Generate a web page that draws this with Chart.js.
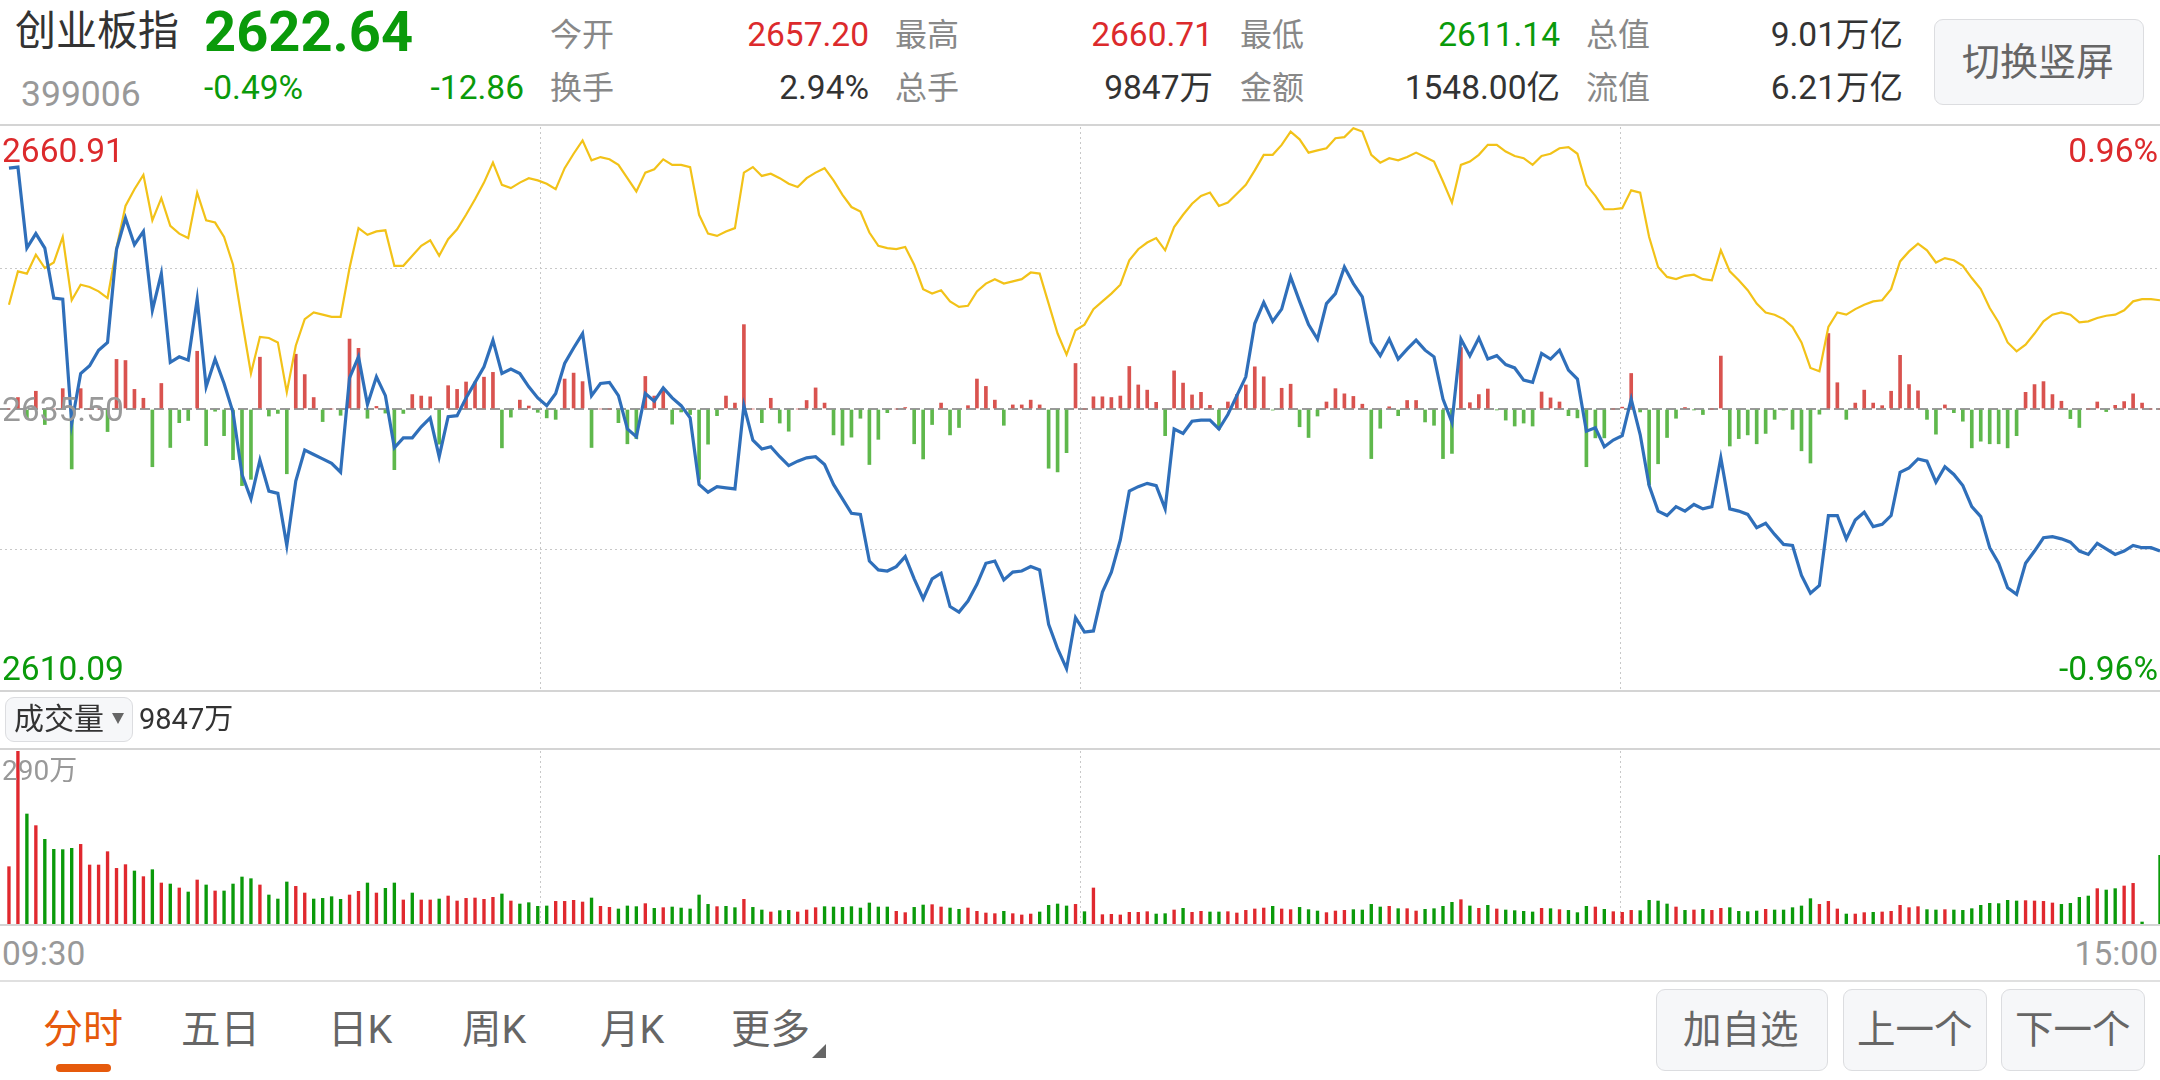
<!DOCTYPE html>
<html>
<head>
<meta charset="utf-8">
<title>创业板指</title>
<script src="https://cdn.jsdelivr.net/npm/chart.js@4/dist/chart.umd.min.js"></script>
<style>
  html, body { margin: 0; padding: 0; background: #fff; }
  #page { position: relative; width: 2160px; height: 1080px; overflow: hidden; background: #fff; font-family: Roboto, "Noto Sans CJK SC", sans-serif; }
  #page canvas { position: absolute; left: 0; }
  .txt { position: absolute; white-space: nowrap; line-height: 1; transform: translateY(-50%); }
  .rule { position: absolute; left: 0; width: 2160px; height: 2px; background: #d4d4d4; }
  .btn { position: absolute; box-sizing: border-box; background: #f6f7f9; border: 1.5px solid #dcdde0; border-radius: 9px; }
</style>
</head>
<body>
<div id="page">
  <canvas id="mainChart" width="2160" height="564" style="top:127px"></canvas>
  <canvas id="volumeChart" width="2160" height="174" style="top:751px"></canvas>
  <div class="rule" style="top:124px"></div>
  <div class="rule" style="top:690px"></div>
  <div class="rule" style="top:748px"></div>
  <div class="rule" style="top:924px"></div>
  <div class="rule" style="top:980px;background:#e0e0e0"></div>
  <div class="btn" style="left:1934px;top:19px;width:210px;height:86px"></div>
  <div class="btn" style="left:5px;top:697px;width:128px;height:45px"></div>
  <div class="btn" style="left:1656px;top:989px;width:172px;height:82px"></div>
  <div class="btn" style="left:1843px;top:989px;width:144px;height:82px"></div>
  <div class="btn" style="left:2001px;top:989px;width:144px;height:82px"></div>
  <div style="position:absolute;left:56px;top:1064px;width:55px;height:8px;border-radius:4px;background:#e65a0c"></div>
  <div style="position:absolute;left:112px;top:713px;border-left:6px solid transparent;border-right:6px solid transparent;border-top:11px solid #666"></div>
  <div style="position:absolute;left:812px;top:1044px;border-left:14px solid transparent;border-bottom:14px solid #666"></div>
</div>
<script>
// 价格刻度
const priceTicks = ['2660.91', '2635.50', '2610.09'];
const percentTicks = ['0.96%', '-0.96%'];
const volumeTick = '290万';
const timeTicks = ['09:30', '15:00'];
const priceMin = 2610.09;
const priceMid = 2635.50;
const priceMax = 2660.91;
const priceGrid = [2648.2, 2622.8];
const volumeMax = 290;
const flowMax = 762;
const minuteCount = 241;
const minuteGrid = [60.25, 120.5, 180.75];

// 蓝线:指数
const indexValues = [
  2657.2, 2657.3, 2650.0, 2651.3, 2650.0, 2645.5, 2645.4, 2634.2, 2638.7, 2639.4,
  2640.8, 2641.5, 2649.9, 2652.7, 2650.3, 2651.5, 2644.4, 2647.7, 2639.7, 2640.2,
  2639.9, 2645.4, 2637.5, 2640.0, 2637.8, 2635.2, 2629.6, 2627.4, 2630.9, 2628.1,
  2627.9, 2623.2, 2629.0, 2631.8, 2631.4, 2631.0, 2630.6, 2629.8, 2638.3, 2640.2,
  2635.9, 2638.4, 2636.7, 2632.0, 2632.9, 2632.9, 2633.9, 2634.7, 2631.2, 2634.8,
  2634.9, 2636.5, 2637.9, 2639.3, 2641.7, 2638.7, 2639.1, 2638.7, 2637.5, 2636.5,
  2635.8, 2636.9, 2639.6, 2641.0, 2642.3, 2636.7, 2637.8, 2637.9, 2636.7, 2633.7,
  2633.0, 2636.9, 2636.2, 2637.4, 2636.5, 2635.8, 2634.7, 2628.7, 2628.0, 2628.5,
  2628.4, 2628.3, 2635.8, 2632.7, 2631.9, 2632.1, 2631.2, 2630.4, 2630.8, 2631.1,
  2631.2, 2630.5, 2628.7, 2627.4, 2626.1, 2626.0, 2621.8, 2621.0, 2620.9, 2621.3,
  2622.2, 2620.2, 2618.4, 2620.2, 2620.7, 2617.7, 2617.2, 2618.2, 2619.7, 2621.6,
  2621.8, 2620.1, 2620.8, 2620.9, 2621.3, 2621.0, 2616.1, 2613.9, 2612.1, 2616.7,
  2615.4, 2615.5, 2619.0, 2620.8, 2623.7, 2628.1, 2628.5, 2628.8, 2628.6, 2626.5,
  2633.7, 2633.3, 2634.4, 2634.5, 2634.5, 2633.7, 2635.0, 2636.7, 2638.4, 2643.2,
  2645.1, 2643.4, 2644.5, 2647.4, 2645.2, 2643.1, 2641.8, 2645.0, 2645.9, 2648.3,
  2646.8, 2645.6, 2641.5, 2640.3, 2641.8, 2640.0, 2640.9, 2641.7, 2640.8, 2640.2,
  2636.4, 2634.3, 2641.8, 2640.3, 2641.9, 2640.0, 2640.3, 2639.5, 2639.2, 2638.1,
  2637.9, 2640.5, 2640.0, 2640.8, 2639.0, 2638.2, 2633.5, 2633.8, 2632.1, 2632.7,
  2633.1, 2636.4, 2633.2, 2628.6, 2626.3, 2625.9, 2626.7, 2626.3, 2626.9, 2626.5,
  2626.7, 2631.1, 2626.5, 2626.3, 2626.0, 2624.8, 2625.2, 2624.2, 2623.3, 2623.2,
  2620.5, 2618.9, 2619.6, 2625.9, 2625.9, 2623.8, 2625.5, 2626.2, 2624.9, 2625.1,
  2625.9, 2629.8, 2630.2, 2631.0, 2630.8, 2628.9, 2630.3, 2629.6, 2628.6, 2626.7,
  2625.8, 2623.0, 2621.6, 2619.4, 2618.8, 2621.6, 2622.7, 2623.9, 2624.0, 2623.8,
  2623.5, 2622.7, 2622.4, 2623.4, 2622.9, 2622.4, 2622.7, 2623.2, 2623.0, 2623.0,
  2622.7
];

// 黄线:领先指标
const leadValues = [
  2644.9, 2647.9, 2647.7, 2649.4, 2648.2, 2648.7, 2651.0, 2645.3, 2646.7, 2646.5,
  2646.1, 2645.5, 2650.0, 2653.8, 2655.3, 2656.6, 2652.5, 2654.5, 2652.0, 2651.3,
  2650.9, 2655.0, 2652.5, 2652.3, 2651.0, 2648.5, 2643.5, 2638.7, 2642.0, 2641.9,
  2641.5, 2637.0, 2641.2, 2643.6, 2644.2, 2644.0, 2643.8, 2643.8, 2648.2, 2651.8,
  2651.2, 2651.5, 2651.6, 2648.4, 2648.4, 2649.3, 2650.2, 2650.7, 2649.3, 2650.8,
  2651.7, 2653.0, 2654.4, 2655.9, 2657.7, 2655.7, 2655.4, 2655.9, 2656.3, 2656.1,
  2655.8, 2655.3, 2657.2, 2658.5, 2659.7, 2657.9, 2658.2, 2658.0, 2657.5, 2656.3,
  2655.1, 2656.8, 2657.1, 2658.0, 2657.5, 2657.5, 2657.3, 2653.0, 2651.3, 2651.1,
  2651.5, 2651.8, 2656.8, 2657.3, 2656.5, 2656.7, 2656.3, 2655.8, 2655.5, 2656.3,
  2656.8, 2657.2, 2656.1, 2654.8, 2653.7, 2653.3, 2651.4, 2650.2, 2650.0, 2649.9,
  2650.1, 2648.5, 2646.3, 2645.9, 2646.2, 2645.2, 2644.7, 2644.8, 2646.1, 2646.8,
  2647.2, 2646.8, 2647.0, 2647.2, 2647.8, 2647.7, 2645.0, 2642.3, 2640.4, 2642.6,
  2643.1, 2644.5, 2645.2, 2645.9, 2646.7, 2648.9, 2649.9, 2650.5, 2650.9, 2649.8,
  2651.9, 2653.0, 2654.0, 2654.7, 2655.0, 2653.8, 2654.1, 2654.9, 2655.7, 2657.0,
  2658.4, 2658.4, 2659.3, 2660.5, 2659.8, 2658.6, 2658.8, 2659.0, 2659.9, 2660.0,
  2660.8, 2660.5, 2658.4, 2657.7, 2658.1, 2657.9, 2658.2, 2658.6, 2658.2, 2657.8,
  2656.0, 2654.1, 2657.5, 2657.8, 2658.4, 2659.3, 2659.3, 2658.7, 2658.3, 2658.1,
  2657.5, 2658.3, 2658.5, 2659.0, 2659.1, 2658.5, 2655.7, 2654.7, 2653.5, 2653.5,
  2653.6, 2655.2, 2655.0, 2651.0, 2648.3, 2647.4, 2647.2, 2647.5, 2647.6, 2647.2,
  2647.1, 2649.8, 2647.9, 2647.1, 2646.2, 2645.0, 2644.2, 2644.0, 2643.6, 2642.9,
  2641.5, 2639.2, 2638.9, 2642.9, 2644.2, 2644.0, 2644.5, 2644.9, 2645.2, 2645.3,
  2646.3, 2648.8, 2649.7, 2650.4, 2649.8, 2648.7, 2649.1, 2648.9, 2648.4, 2647.3,
  2646.3, 2644.6, 2643.3, 2641.5, 2640.7, 2641.3, 2642.3, 2643.4, 2644.0, 2644.2,
  2644.0, 2643.3, 2643.4, 2643.7, 2643.9, 2644.0, 2644.4, 2645.2, 2645.4, 2645.4,
  2645.3
];

// 红绿柱
const flowValues = [
  0, 31, -25, 48, -42, 0, 55, -162, 55, 0,
  0, -61, 134, 131, 53, 29, -156, 69, -104, -37,
  -31, 156, -99, -6, -72, -137, -207, -190, 140, -19,
  -12, -175, 148, 93, 31, -34, 0, -17, 189, 164,
  -25, 7, -11, -164, -12, 39, 35, 33, -95, 63,
  53, 73, 73, 86, 99, -105, -22, 24, 8, -9,
  -24, -28, 81, 97, 74, -104, 0, 0, -37, -94,
  -80, 88, 35, 50, -41, -8, -15, -190, -95, -18,
  35, 16, 228, 0, -37, 29, -38, -60, 0, 23,
  57, 16, -70, -98, -76, -25, -150, -82, -10, 0,
  4, -94, -135, -42, 16, -70, -50, 9, 81, 61,
  24, -44, 11, 11, 24, 11, -160, -170, -118, 123,
  0, 33, 33, 31, 35, 115, 65, 51, 18, -72,
  103, 70, 38, 45, 10, -55, 19, 39, 65, 114,
  87, -3, 56, 67, -48, -77, -19, 19, 55, 41,
  34, 13, -134, -52, 6, -18, 23, 23, -35, -44,
  -134, -120, 166, 17, 39, 54, -2, -30, -46, -38,
  -46, 46, 30, 19, -18, -24, -156, -78, -78, 0,
  5, 96, -8, -205, -148, -77, -25, 4, -2, -15,
  0, 143, -100, -80, -70, -94, -66, -28, -3, -55,
  -113, -146, -14, 204, 71, -28, 16, 51, 16, 9,
  48, 145, 66, 49, -28, -68, 11, -10, -33, -105,
  -87, -94, -94, -105, -72, 45, 66, 74, 39, 21,
  -26, -50, 0, 19, -7, 10, 20, 41, 16, 0,
  0
];

// 成交量(万手)
const volumeValues = [
  97.2, 290, 185, 165.6, 142.8, 126.1, 125.6, 127.8, 134.4, 100,
  100, 122.2, 94.4, 100.6, 90, 80.6, 92.2, 70, 68.3, 61.7,
  55, 75, 66.7, 56.7, 56.7, 68.3, 80, 77.2, 66.7, 50,
  43.3, 71.7, 64.4, 53.3, 43.3, 44.4, 47.2, 42.8, 50, 56.1,
  70, 53.3, 61.1, 70, 41.7, 53.3, 41.7, 41.7, 43.3, 48.3,
  40, 44.4, 45, 42.8, 46.1, 51.7, 40, 35, 37.2, 31.1,
  31.7, 39.4, 39.4, 41.1, 38.3, 45, 31.1, 29.4, 26.7, 31.7,
  30.6, 35.6, 27.8, 28.9, 30, 28.3, 26.7, 50, 34.4, 30.6,
  31.1, 28.9, 42.8, 29.4, 25, 21.7, 23.9, 24.4, 21.7, 25,
  28.9, 30.6, 30, 29.4, 30.6, 28.3, 36.7, 30, 30, 22.8,
  20.6, 29.4, 33.3, 33.9, 30, 28.3, 26.1, 28.3, 22.8, 20,
  18.9, 22.8, 18.9, 16.7, 18.3, 21.7, 32.8, 35, 31.7, 34.4,
  22.2, 61.7, 17.2, 17.8, 16.7, 21.1, 21.1, 22.2, 18.3, 18.9,
  25, 27.8, 21.1, 22.8, 21.7, 21.7, 22.2, 20, 24.4, 26.7,
  28.3, 31.1, 26.7, 25.6, 29.4, 25.6, 23.3, 20.6, 23.3, 24.4,
  25.6, 25, 34.4, 30, 31.1, 27.2, 27.2, 23.3, 26.1, 27.2,
  31.1, 37.8, 42.2, 31.7, 27.8, 32.8, 26.7, 25, 23.9, 22.8,
  21.7, 27.8, 27.2, 25.6, 24.4, 20.6, 31.1, 30, 26.1, 22.2,
  21.1, 24.4, 23.9, 41.1, 40, 35, 30, 24.4, 25, 26.1,
  24.4, 27.8, 28.9, 22.8, 22.2, 23.3, 26.1, 25, 25, 28.9,
  31.7, 43.9, 34.4, 39.4, 26.7, 18.3, 18.3, 20.6, 21.1, 21.7,
  22.8, 32.8, 28.9, 30.6, 25.6, 25, 25.6, 25, 24.4, 27.2,
  32.8, 36.1, 35.6, 41.1, 40, 40.6, 40, 39.4, 36.7, 34.4,
  36.1, 46.1, 48.3, 60.6, 58.3, 60.6, 65, 69.4, 5, 0,
  116.1
];

// 涨跌:R 涨 G 跌
const volumeMoves = (
  'RRGRGGGGRR' + 'RRRRGRGRGR' + 'GRGRGGGGRG' + 'GGRRGGGGRR' +
  'GRGGRGRRGR' + 'RRRRRGRGGG' + 'GRRRRGRRGG' + 'GRGRGGGGGR' +
  'GGRGGRGGRR' + 'RGGGGGGGGR' + 'RGGRRGGRRR' + 'RGRRRGGGGR' +
  'GRRRRRRRGG' + 'RGRRGGRRRR' + 'RGRRGGGRRR' + 'GGGGRGRRGG' +
  'GGRGRGRGGG' + 'GRGRGGGRGR' + 'RRGGGGRGRG' + 'RRGGGGRGGG' +
  'GGRRRGRRGR' + 'RRRRGGRGGG' + 'GGGGGRRRRG' + 'GGGRGGRRGG' + 'G'
).split('');

const RED = '#dc2a2c';
const GREEN = '#0a9a0a';
const VOL_RED = '#e0282e';
const FLOW_RED = '#d9534f';
const FLOW_GREEN = '#5fb84c';
const GRID = '#c8c8c8';
const NUM = 33.5;

// 文字都用 html 放上去
const page = document.getElementById('page');
function addText(text, x, y, size, color, alignRight, bold) {
  const el = document.createElement('span');
  el.className = 'txt';
  el.textContent = text;
  el.style.top = y + 'px';
  el.style.fontSize = size + 'px';
  el.style.color = color;
  if (alignRight) el.style.right = (2160 - x) + 'px';
  else el.style.left = x + 'px';
  if (bold) el.style.fontWeight = 'bold';
  page.appendChild(el);
}

// 头部
addText('创业板指', 15, 31, 41, '#333');
addText('2622.64', 204, 32, 56, GREEN, false, true);
addText('399006', 21, 95, 35.5, '#999');
addText('-0.49%', 204, 88, NUM, GREEN);
addText('-12.86', 524, 88, NUM, GREEN, true);
addText('今开', 550, 35, 32, '#888');
addText('换手', 550, 88, 32, '#888');
addText('2657.20', 869, 35, NUM, RED, true);
addText('2.94%', 869, 88, NUM, '#333', true);
addText('最高', 895, 35, 32, '#888');
addText('总手', 895, 88, 32, '#888');
addText('2660.71', 1213, 35, NUM, RED, true);
addText('9847万', 1213, 88, NUM, '#333', true);
addText('最低', 1240, 35, 32, '#888');
addText('金额', 1240, 88, 32, '#888');
addText('2611.14', 1560, 35, NUM, GREEN, true);
addText('1548.00亿', 1560, 88, NUM, '#333', true);
addText('总值', 1586, 35, 32, '#888');
addText('流值', 1586, 88, 32, '#888');
addText('9.01万亿', 1903, 35, NUM, '#333', true);
addText('6.21万亿', 1903, 88, NUM, '#333', true);
addText('切换竖屏', 1962, 62, 38, '#666');

// 刻度
addText(priceTicks[0], 2, 151, NUM, RED);
addText(priceTicks[1], 2, 410, NUM, '#999');
addText(priceTicks[2], 2, 669, NUM, GREEN);
addText(percentTicks[0], 2158, 151, NUM, RED, true);
addText(percentTicks[1], 2158, 669, NUM, GREEN, true);
addText('成交量', 14, 719, 30, '#333');
addText('9847万', 139, 719, 29, '#333');
addText(volumeTick, 2, 771, 28, '#999');
addText(timeTicks[0], 2, 954, NUM, '#999');
addText(timeTicks[1], 2158, 954, NUM, '#999', true);

// 底部
addText('分时', 43, 1030, 40, '#e65a0c');
addText('五日', 181, 1030, 39.5, '#666');
addText('日K', 328, 1030, 39.5, '#666');
addText('周K', 462, 1030, 39.5, '#666');
addText('月K', 600, 1030, 39.5, '#666');
addText('更多', 731, 1030, 39.5, '#666');
addText('加自选', 1683, 1030, 38.5, '#666');
addText('上一个', 1857, 1030, 38.5, '#666');
addText('下一个', 2015, 1030, 38.5, '#666');

// 序号从 1 开始,0 和 241 是画布两端
const toPoints = values => values.map((v, i) => ({ x: i + 1, y: v }));

const minuteAxis = {
  type: 'linear',
  min: 0,
  max: minuteCount,
  offset: false,
  ticks: { display: false },
  grid: { color: GRID, lineWidth: 1, drawTicks: false, offset: false },
  border: { display: false, dash: [2, 3] },
  afterBuildTicks: axis => { axis.ticks = minuteGrid.map(v => ({ value: v })); }
};

new Chart(document.getElementById('mainChart'), {
  data: {
    datasets: [
      { type: 'line', label: '创业板指', data: toPoints(indexValues), borderColor: '#2f6fba', borderWidth: 3.2, pointRadius: 0, tension: 0, order: 0, yAxisID: 'y' },
      { type: 'line', label: '领先', data: toPoints(leadValues), borderColor: '#f2c218', borderWidth: 2.2, pointRadius: 0, tension: 0, order: 1, yAxisID: 'y' },
      {
        type: 'bar',
        label: '红绿柱',
        data: toPoints(flowValues),
        backgroundColor: flowValues.map(v => v >= 0 ? FLOW_RED : FLOW_GREEN),
        barThickness: 3,
        order: 2,
        yAxisID: 'yFlow'
      }
    ]
  },
  options: {
    responsive: false,
    animation: false,
    events: [],
    layout: { padding: 0 },
    plugins: { legend: { display: false }, tooltip: { enabled: false } },
    scales: {
      x: minuteAxis,
      y: {
        min: priceMin,
        max: priceMax,
        ticks: { display: false },
        grid: { color: GRID, lineWidth: 1, drawTicks: false },
        border: { display: false, dash: [2, 3] },
        afterBuildTicks: axis => { axis.ticks = priceGrid.map(v => ({ value: v })); }
      },
      yFlow: {
        position: 'right',
        min: -flowMax,
        max: flowMax,
        ticks: { display: false },
        grid: { color: '#999', lineWidth: 2, drawTicks: false },
        border: { display: false, dash: [10, 4] },
        afterBuildTicks: axis => { axis.ticks = [{ value: 0 }]; }
      }
    }
  }
});

new Chart(document.getElementById('volumeChart'), {
  type: 'bar',
  data: {
    datasets: [{
      label: '成交量',
      data: toPoints(volumeValues),
      backgroundColor: volumeMoves.map(m => m === 'R' ? VOL_RED : GREEN),
      barThickness: 2.7
    }]
  },
  options: {
    responsive: false,
    animation: false,
    events: [],
    layout: { padding: 0 },
    plugins: { legend: { display: false }, tooltip: { enabled: false } },
    scales: {
      x: minuteAxis,
      y: {
        min: 0,
        max: volumeMax,
        ticks: { display: false },
        grid: { display: false, drawTicks: false },
        border: { display: false }
      }
    }
  }
});
</script>
</body>
</html>
